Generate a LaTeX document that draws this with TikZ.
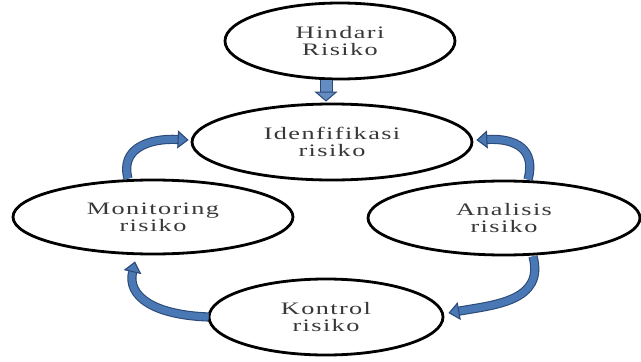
\documentclass[tikz,border=0pt]{standalone}
\usepackage{fontspec}
\usetikzlibrary{shapes.geometric,arrows.meta}
\newfontfamily\lblfont[FakeStretch=1.5,LetterSpace=8]{Liberation Serif}
\definecolor{arrfill}{HTML}{4A78B5}
\definecolor{arrline}{HTML}{2C4A78}
\definecolor{txtgray}{HTML}{383838}
\tikzset{
  ell/.style={ellipse, draw=black, line width=2.8pt, inner sep=0pt, align=center,
    text=txtgray, font=\lblfont\fontsize{17.5}{17}\selectfont},
  carrow/.style={draw=arrline, line width=1.1pt, double=arrfill, double distance=7pt,
    -{Triangle[length=11pt,width=18pt,line width=1.1pt,fill=arrfill]}},
  downarrow/.style={draw=arrline, line width=1pt, double=arrfill!85!white, double distance=11pt,
    -{Triangle[length=10pt,width=23pt,line width=1pt,fill=arrfill!85!white]}}
}
\begin{document}
\begin{tikzpicture}[x=1pt,y=-1pt]
\useasboundingbox (0,0) rectangle (641,362);
\node[ell, minimum width=230pt, minimum height=76pt] (hin) at (340,41) {Hindari\\Risiko};
\node[ell, minimum width=280pt, minimum height=76pt] (ide) at (332,142) {Idenfifikasi\\risiko};
\node[ell, minimum width=280pt, minimum height=74pt] (mon) at (153,217) {Monitoring\\risiko};
\node[ell, minimum width=272pt, minimum height=74pt] (ana) at (504,218) {Analisis\\risiko};
\node[ell, minimum width=234pt, minimum height=76pt] (kon) at (326,317) {Kontrol\\risiko};
% down arrow
\draw[downarrow] ([xshift=-14pt]hin.south) -- ([xshift=-6pt,yshift=1pt]ide.north);
% curved arrows
\draw[carrow] ([xshift=-25pt]mon.north) .. controls +(-8,-30) and +(-40,-2) .. ([xshift=-2pt,yshift=2pt]ide.west);
\draw[carrow] ([xshift=24pt]ana.north) .. controls +(8,-30) and +(40,-2) .. ([xshift=3pt,yshift=2pt]ide.east);
\draw[carrow] ([xshift=29pt]ana.south) .. controls +(12,45) and +(45,-8) .. ([xshift=4pt,yshift=4pt]kon.east);
\draw[carrow] ([xshift=1pt]kon.west) .. controls +(-55,-2) and +(-8,35) .. ([xshift=-18pt,yshift=-6pt]mon.south);
\end{tikzpicture}
\end{document}
